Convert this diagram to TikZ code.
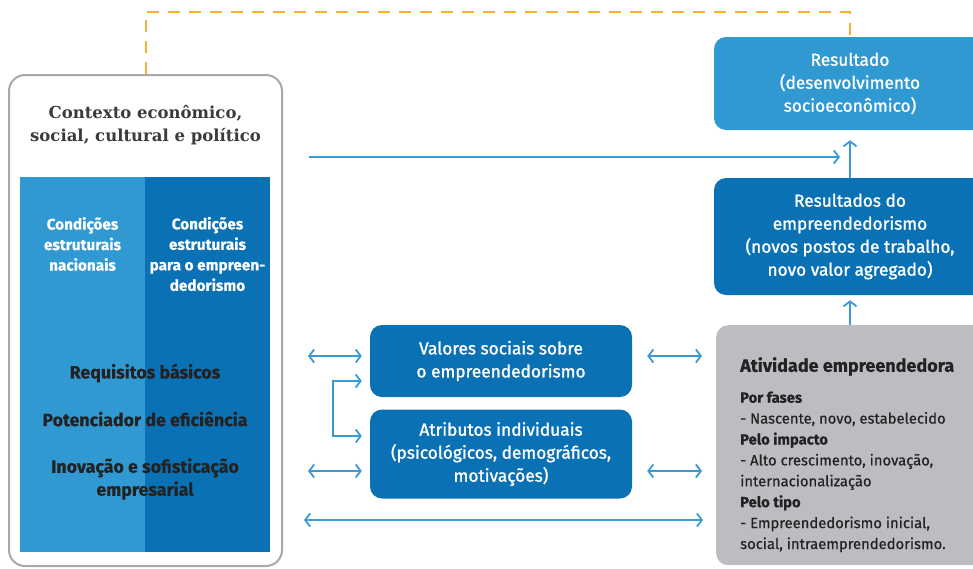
\documentclass[tikz,border=0pt]{standalone}
\usepackage{fontspec}
\setmainfont{Fira Sans}[FakeBold=0.5]
\newfontfamily\titlefont{DejaVu Serif}
\newfontfamily\boxfont{Fira Sans}[FakeBold=1.3]
\usetikzlibrary{arrows.meta}
\definecolor{ctxgray}{HTML}{A7A8AA}
\definecolor{lightblue}{HTML}{3099D1}
\definecolor{darkblue}{HTML}{0A71B5}
\definecolor{actgray}{HTML}{BCBDC0}
\definecolor{arrblue}{HTML}{3A9AD6}
\definecolor{dashorange}{HTML}{FBB033}
\definecolor{inktext}{HTML}{222222}
\definecolor{titletext}{HTML}{3B3B3B}
\tikzset{
    ctxbox/.style={draw=ctxgray, line width=2pt, rounded corners=16pt},
    colbox/.style={minimum width=125pt, minimum height=375pt, inner sep=0pt},
    titletxt/.style={text=titletext, align=center, font=\titlefont\bfseries\fontsize{16.5}{23}\selectfont},
    colhead/.style={text=white, align=center, font=\bfseries\fontsize{15.3}{20.5}\selectfont},
    rowtxt/.style={text=inktext, align=center, font=\bfseries\fontsize{17.8}{23}\selectfont},
    bluebox/.style={rounded corners=12pt, fill=darkblue, text=white, align=center, font=\boxfont\fontsize{17.3}{23}\selectfont},
    actbox/.style={rounded corners=12pt, fill=actgray, minimum width=270pt, minimum height=240pt},
    acttxt/.style={text=inktext, align=left, inner sep=0pt, font=\fontsize{14.8}{20.9}\selectfont},
    arr/.style={draw=arrblue, line width=1.8pt, -{Straight Barb[length=5pt,width=13pt]}},
    dbl/.style={draw=arrblue, line width=1.8pt, {Straight Barb[length=5pt,width=13pt]}-{Straight Barb[length=5pt,width=13pt]}},
    dashline/.style={draw=dashorange, line width=2pt, dash pattern=on 12pt off 9pt}
    }

\begin{document}
\begin{tikzpicture}[x=1pt,y=-1pt]
	\useasboundingbox (0,0) rectangle (973,568);
	% context
	\node[ctxbox, minimum width=273pt, minimum height=491pt] (ctx) at (145.5,320.5) {};
	\node[colbox, fill=lightblue, anchor=north west] (nac) at (20,177) {};
	\node[colbox, fill=darkblue, anchor=north west] (emp) at (145,177) {};
	\node[titletxt] (title) at (145.5,125) {Contexto econômico,\\social, cultural e político};
	\node[colhead] (nachead) at (82.5,244) {Condições\\estruturais\\nacionais};
	\node[colhead] (emphead) at (207.5,254) {Condições\\estruturais\\para o empreen-\\dedorismo};
	\node[rowtxt] (req) at (145,373) {Requisitos básicos};
	\node[rowtxt] (pot) at (145,419) {Potenciador de eficiência};
	\node[rowtxt] (inov) at (145,479) {Inovação e sofisticação\\empresarial};

	% middle
	\node[bluebox, minimum width=262pt, minimum height=72pt] (val) at (501,361) {Valores sociais sobre\\o empreendedorismo};
	\node[bluebox, minimum width=262pt, minimum height=89pt] (atr) at (501,454) {Atributos individuais\\(psicológicos, demográficos,\\motivações)};

	% right
	\node[bluebox, fill=lightblue, minimum width=272pt, minimum height=93pt] (res) at (850,83.5) {Resultado\\(desenvolvimento\\socioeconômico)};
	\node[bluebox, minimum width=272pt, minimum height=117pt] (rese) at (850,236.5) {Resultados do\\empreendedorismo\\(novos postos de trabalho,\\novo valor agregado)};
	\node[actbox, anchor=north west] (act) at (716,325) {};
	\node[acttxt, anchor=north west] (actlist) at (740,357) {{\bfseries\fontsize{18}{20}\selectfont Atividade empreendedora}\\[10pt]
		\textbf{Por fases}\\- Nascente, novo, estabelecido\\
		\textbf{Pelo impacto}\\- Alto crescimento, inovação,\\internacionalização\\
		\textbf{Pelo tipo}\\- Empreendedorismo inicial,\\social, intraemprendedorismo.};

	\coordinate (top) at (0,12);
	\coordinate (mid) at (0,157);
	\coordinate (r1) at (0,356);
	\coordinate (r2) at (0,471);
	\coordinate (r3) at (0,520);
	\coordinate (b1) at (333,381);
	\coordinate (b2) at (333,436);

	\draw[dashline] (ctx.north) -- (ctx.north |- top) -| (res.north);
	\draw[arr, shorten >=10pt] (rese.north) -- (res.south);
	\draw[arr, shorten >=5pt] (act.north -| rese.south) -- (rese.south);
	\draw[arr, shorten <=26pt, shorten >=10pt] (ctx.east |- mid) -- (res.south |- mid);
	\draw[dbl, shorten <=25pt, shorten >=8pt] (ctx.east |- r1) -- (val.west |- r1);
	\draw[dbl, shorten <=25pt, shorten >=8pt] (ctx.east |- r2) -- (atr.west |- r2);
	\draw[dbl, shorten <=15pt, shorten >=14pt] (val.east |- r1) -- (act.west |- r1);
	\draw[dbl, shorten <=15pt, shorten >=14pt] (atr.east |- r2) -- (act.west |- r2);
	\draw[dbl, shorten <=21pt, shorten >=13pt] (ctx.east |- r3) -- (act.west |- r3);
	\draw[dbl, shorten <=8pt, shorten >=8pt] (val.west |- b1) -| (b2) -- (atr.west |- b2);
\end{tikzpicture}
\end{document}
